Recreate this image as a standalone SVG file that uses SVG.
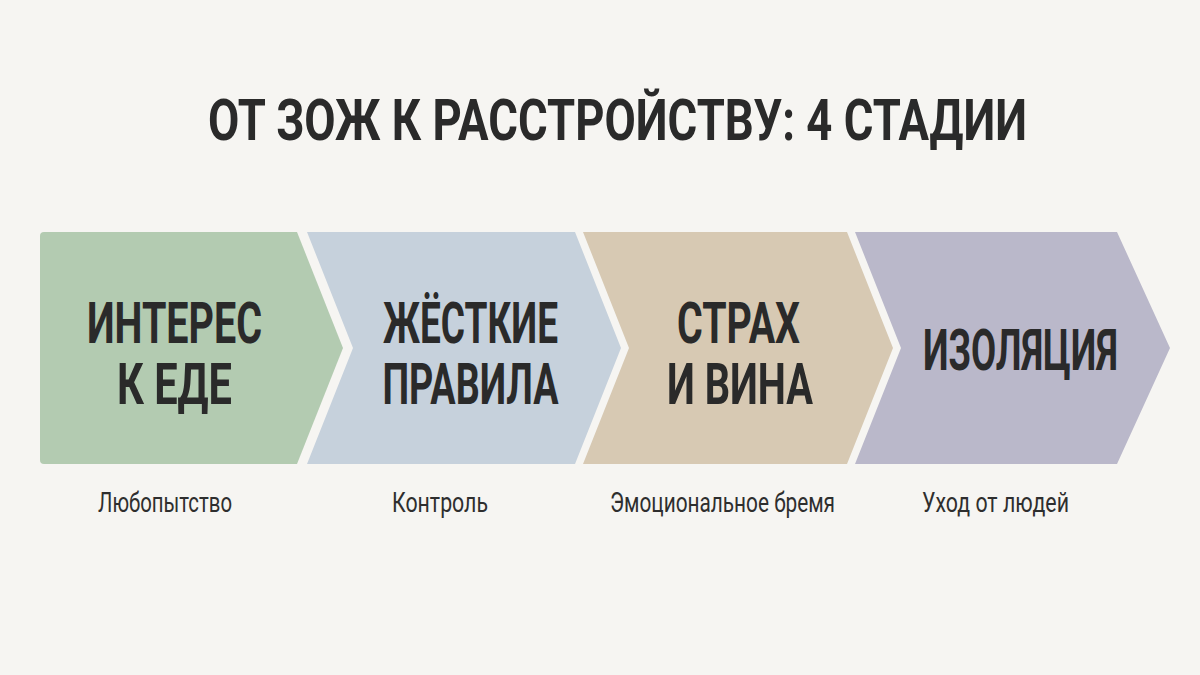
<svg xmlns="http://www.w3.org/2000/svg" width="1200" height="675" viewBox="0 0 1200 675">
  <style>
    .bg { fill: #f6f5f2; }
    .title { font-family: Roboto, "DejaVu Sans Condensed", "Liberation Sans", sans-serif; font-weight: 700; font-size: 58px; fill: #2a2a2a; text-anchor: middle; }
    .label { font-family: Roboto, "DejaVu Sans Condensed", "Liberation Sans", sans-serif; font-weight: 700; font-size: 58px; fill: #2a2a2a; text-anchor: middle; }
    .sub { font-family: Roboto, "DejaVu Sans Condensed", "Liberation Sans", sans-serif; font-weight: 400; font-size: 27px; fill: #2e2e2e; text-anchor: middle; }
    .s1 { fill: #b3cbb1; }
    .s2 { fill: #c6d1dc; }
    .s3 { fill: #d7c9b3; }
    .s4 { fill: #bab8ca; }
  </style>
  <rect class="bg" x="0" y="0" width="1200" height="675"/>
  <text class="title" x="617.5" y="140" textLength="819" lengthAdjust="spacingAndGlyphs">ОТ ЗОЖ К РАССТРОЙСТВУ: 4 СТАДИИ</text>

  <g id="stage1">
    <path class="s1" d="M44,232 L297,232 L343,348 L297,464 L44,464 Q40,464 40,460 L40,236 Q40,232 44,232 Z"/>
    <text class="label" x="174.5" y="343" textLength="175" lengthAdjust="spacingAndGlyphs">ИНТЕРЕС</text>
    <text class="label" x="174.5" y="404" textLength="115" lengthAdjust="spacingAndGlyphs">К ЕДЕ</text>
    <text class="sub" x="165" y="512" textLength="134" lengthAdjust="spacingAndGlyphs">Любопытство</text>
  </g>

  <g id="stage2">
    <path class="s2" d="M307,232 L575,232 L621,348 L575,464 L307,464 L353,348 Z"/>
    <text class="label" x="470.5" y="343" textLength="175" lengthAdjust="spacingAndGlyphs">ЖЁСТКИЕ</text>
    <text class="label" x="470.5" y="404" textLength="176" lengthAdjust="spacingAndGlyphs">ПРАВИЛА</text>
    <text class="sub" x="440" y="512" textLength="96" lengthAdjust="spacingAndGlyphs">Контроль</text>
  </g>

  <g id="stage3">
    <path class="s3" d="M583,232 L847,232 L893,348 L847,464 L583,464 L629,348 Z"/>
    <text class="label" x="738.5" y="343" textLength="123" lengthAdjust="spacingAndGlyphs">СТРАХ</text>
    <text class="label" x="740" y="404" textLength="146" lengthAdjust="spacingAndGlyphs">И ВИНА</text>
    <text class="sub" x="722.5" y="512" textLength="225" lengthAdjust="spacingAndGlyphs">Эмоциональное бремя</text>
  </g>

  <g id="stage4">
    <path class="s4" d="M855,232 L1117,232 L1170,348 L1117,464 L855,464 L901,348 Z"/>
    <text class="label" x="1020.5" y="370" textLength="195" lengthAdjust="spacingAndGlyphs">ИЗОЛЯЦИЯ</text>
    <text class="sub" x="995.5" y="512" textLength="147" lengthAdjust="spacingAndGlyphs">Уход от людей</text>
  </g>

  <g id="connectors"></g>
</svg>
